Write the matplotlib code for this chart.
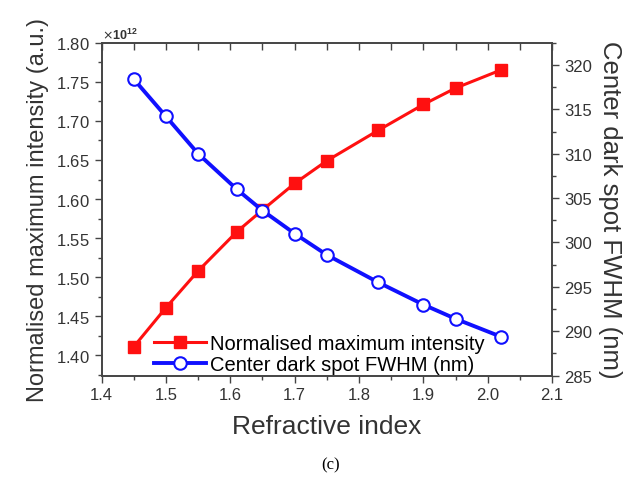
import matplotlib
matplotlib.use("Agg")
import matplotlib.pyplot as plt
from matplotlib.ticker import MultipleLocator, ScalarFormatter

plt.rcParams['font.family'] = ['Liberation Sans', 'DejaVu Sans']

# Refractive index vs normalised max intensity and dark-spot FWHM
n_index = [1.45, 1.50, 1.55, 1.61, 1.65, 1.70, 1.75, 1.83, 1.90, 1.95, 2.02]
intensity = [1.411e12, 1.461e12, 1.508e12, 1.558e12, 1.586e12, 1.620e12,
             1.649e12, 1.688e12, 1.721e12, 1.742e12, 1.765e12]
fwhm = [318.4, 314.2, 310.0, 306.0, 303.6, 301.0, 298.6, 295.5, 293.0, 291.4, 289.4]

fig = plt.figure(figsize=(6.39, 4.81), dpi=100)
ax = fig.add_axes([0.159, 0.217, 0.705, 0.692])
ax2 = ax.twinx()

l1, = ax.plot(n_index, intensity, color='#ff1010', lw=2.2, marker='s', ms=8,
              mfc='#ff1010', mec='#ff1010', label='Normalised maximum intensity')
l2, = ax2.plot(n_index, fwhm, color='#1010ff', lw=2.8, marker='o', ms=9,
               mfc='white', mec='#1010ff', mew=1.5, label='Center dark spot FWHM (nm)')

ax.set_xlim(1.4, 2.1)
ax.set_ylim(1.374e12, 1.80e12)
ax2.set_ylim(285, 322.5)

ax.xaxis.set_major_locator(MultipleLocator(0.1))
ax.xaxis.set_minor_locator(MultipleLocator(0.05))
ax.yaxis.set_major_locator(MultipleLocator(0.05e12))
ax.yaxis.set_minor_locator(MultipleLocator(0.025e12))
ax2.yaxis.set_major_locator(MultipleLocator(5))
ax2.yaxis.set_minor_locator(MultipleLocator(2.5))

fmt = ScalarFormatter(useMathText=True)
fmt.set_powerlimits((0, 0))
ax.yaxis.set_major_formatter(fmt)
ax.yaxis.get_offset_text().set_fontsize(9)
ax.yaxis.get_offset_text().set_fontweight('bold')

# top axis: inward ticks, no labels
top = ax.secondary_xaxis('top')
top.xaxis.set_major_locator(MultipleLocator(0.1))
top.xaxis.set_minor_locator(MultipleLocator(0.05))
top.tick_params(which='both', direction='in', labeltop=False, length=5, width=1, colors='#444444')
top.spines['top'].set_visible(False)

ax.tick_params(axis='both', which='both', direction='out', labelsize=12,
               colors='#444444', labelcolor='#333333')
ax.tick_params(which='major', length=5, width=1)
ax.tick_params(which='minor', length=3, width=1)
ax2.tick_params(axis='y', which='both', direction='out', labelsize=12,
                colors='#444444', labelcolor='#333333')
ax2.tick_params(which='major', length=5, width=1)
ax2.tick_params(which='minor', length=3, width=1)
for sp in list(ax.spines.values()) + list(ax2.spines.values()):
    sp.set_color('#444444')
    sp.set_linewidth(1.2)

ax.set_xlabel('Refractive index', fontsize=19, color='#333333', labelpad=8)
ax.set_ylabel('Normalised maximum intensity (a.u.)', fontsize=17, color='#333333', labelpad=5)
ax2.set_ylabel('Center dark spot FWHM (nm)', fontsize=18.5, color='#333333',
               rotation=270, labelpad=22)

ax.legend([l1, l2], [l1.get_label(), l2.get_label()], loc='lower left',
          bbox_to_anchor=(0.075, -0.05), frameon=False, fontsize=14.5,
          handlelength=2.6, handletextpad=0.2, labelspacing=0.1)

fig.text(0.517, 0.025, '(c)', fontsize=12, family='Liberation Serif', ha='center')

fig.savefig('out.png', dpi=100)
